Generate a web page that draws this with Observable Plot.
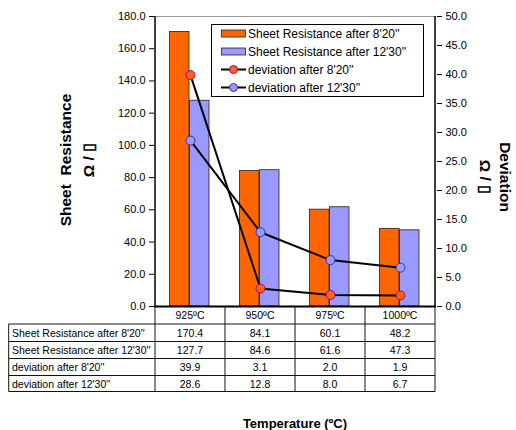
<!DOCTYPE html>
<html>
<head>
<meta charset="utf-8">
<script src="https://cdn.jsdelivr.net/npm/d3@7"></script>
<script src="https://cdn.jsdelivr.net/npm/@observablehq/plot@0.6"></script>
<style>
  html, body { margin: 0; padding: 0; background: #fff; }
  #chart { width: 516px; height: 430px; }
</style>
</head>
<body>
<div id="chart"></div>
<script>
const categories = ["925ºC", "950ºC", "975ºC", "1000ºC"];
const sheetResistance820 = [170.4, 84.1, 60.1, 48.2];
const sheetResistance1230 = [127.7, 84.6, 61.6, 47.3];
const deviation820 = [39.9, 3.1, 2.0, 1.9];
const deviation1230 = [28.6, 12.8, 8.0, 6.7];
const seriesNames = [
  "Sheet Resistance after 8'20''",
  "Sheet Resistance after 12'30''",
  "deviation after 8'20''",
  "deviation after 12'30''"
];
const leftTicks = [0, 20, 40, 60, 80, 100, 120, 140, 160, 180];
const rightTicks = [0, 5, 10, 15, 20, 25, 30, 35, 40, 45, 50];
const leftMax = 180, rightMax = 50;
const k = leftMax / rightMax;

const rows = categories.map((c, i) => ({
  cat: c,
  sr820: sheetResistance820[i],
  sr1230: sheetResistance1230[i],
  dev820: deviation820[i],
  dev1230: deviation1230[i]
}));
const tableSeries = [sheetResistance820, sheetResistance1230, deviation820, deviation1230];

const ORANGE = "#FF6600", BLUE = "#9999FF";
const FONT = "'Liberation Sans', Arial, sans-serif";

const plot = Plot.plot({
  width: 516,
  height: 430,
  marginLeft: 154,
  marginRight: 80,
  marginTop: 16,
  marginBottom: 124,
  style: { fontFamily: FONT, fontSize: "11px", background: "#fff", color: "#000", overflow: "visible" },
  x: { type: "band", domain: categories, padding: 0, axis: null },
  y: { domain: [0, leftMax], axis: null },
  marks: [
    Plot.ruleY([leftMax], { stroke: "#999", strokeWidth: 1 }),
    Plot.barY(rows, { x: "cat", y: "sr820", fill: ORANGE, stroke: "#222", strokeWidth: 0.8, insetLeft: 14.5, insetRight: 36 }),
    Plot.barY(rows, { x: "cat", y: "sr1230", fill: BLUE, stroke: "#222", strokeWidth: 0.8, insetLeft: 34.5, insetRight: 16 }),
    Plot.line(rows, { x: "cat", y: d => d.dev820 * k, stroke: "#000", strokeWidth: 2 }),
    Plot.line(rows, { x: "cat", y: d => d.dev1230 * k, stroke: "#000", strokeWidth: 2 }),
    Plot.dot(rows, { x: "cat", y: d => d.dev820 * k, r: 4.5, fill: ORANGE, stroke: "#990099", strokeWidth: 1 }),
    Plot.dot(rows, { x: "cat", y: d => d.dev1230 * k, r: 4.5, fill: BLUE, stroke: "#333399", strokeWidth: 1 }),
    Plot.ruleY([0], { stroke: "#000", strokeWidth: 2 }),
    Plot.axisY(leftTicks, { anchor: "left", tickSize: 5, tickPadding: 4, tickFormat: d => d.toFixed(1), label: null, fontSize: 11 }),
    Plot.axisY(rightTicks.map(d => d * k), { anchor: "right", tickSize: 5, tickPadding: 4, tickFormat: d => (d / k).toFixed(1), label: null, fontSize: 11 })
  ]
});

document.getElementById("chart").appendChild(plot);

const svg = d3.select(plot);
const xs = plot.scale("x");
const ys = plot.scale("y");
const bw = xs.bandwidth;
const x0 = xs.apply(categories[0]);
const xEnd = xs.apply(categories[categories.length - 1]) + bw;
const yTop = ys.apply(leftMax), yBot = ys.apply(0);

// axis lines
const g = svg.append("g").attr("font-family", FONT).attr("text-anchor", "start").attr("fill", "#000");
g.append("line").attr("x1", x0).attr("x2", x0).attr("y1", yTop).attr("y2", yBot).attr("stroke", "#000").attr("stroke-width", 1.5);
g.append("line").attr("x1", xEnd).attr("x2", xEnd).attr("y1", yTop).attr("y2", yBot).attr("stroke", "#000").attr("stroke-width", 1.5);

// data table
const tableLeft = 8.7;
const rowEdges = [yBot, 324, 341.5, 358.5, 375.5, 391.5];
const tg = g.append("g").attr("stroke", "#111").attr("stroke-width", 1);
for (let i = 1; i < rowEdges.length; i++) {
  tg.append("line").attr("x1", tableLeft).attr("x2", xEnd).attr("y1", rowEdges[i]).attr("y2", rowEdges[i]);
}
tg.append("line").attr("x1", tableLeft).attr("x2", tableLeft).attr("y1", rowEdges[1]).attr("y2", rowEdges[5]);
categories.forEach(c => {
  const xx = xs.apply(c);
  tg.append("line").attr("x1", xx).attr("x2", xx).attr("y1", yBot).attr("y2", rowEdges[5]);
});
tg.append("line").attr("x1", xEnd).attr("x2", xEnd).attr("y1", yBot).attr("y2", rowEdges[5]);

categories.forEach(c => {
  g.append("text").attr("x", xs.apply(c) + bw / 2).attr("y", (rowEdges[0] + rowEdges[1]) / 2 + 4)
    .attr("text-anchor", "middle").attr("font-size", 10.5).text(c);
});
seriesNames.forEach((name, r) => {
  const cy = (rowEdges[r + 1] + rowEdges[r + 2]) / 2 + 4;
  g.append("text").attr("x", 12).attr("y", cy).attr("text-anchor", "start").attr("font-size", 10.5).text(name);
  categories.forEach((c, i) => {
    g.append("text").attr("x", xs.apply(c) + bw / 2).attr("y", cy)
      .attr("text-anchor", "middle").attr("font-size", 10.5).text(tableSeries[r][i].toFixed(1));
  });
});

// legend
const lg = g.append("g");
lg.append("rect").attr("x", 211.5).attr("y", 24.5).attr("width", 212).attr("height", 72)
  .attr("fill", "#fff").attr("stroke", "#000").attr("stroke-width", 1);
const legendY = [33.5, 51.5, 69.5, 87.5];
const legendSym = [
  { type: "bar", fill: ORANGE, stroke: "#222" },
  { type: "bar", fill: BLUE, stroke: "#222" },
  { type: "line", fill: ORANGE, stroke: "#990099" },
  { type: "line", fill: BLUE, stroke: "#333399" }
];
seriesNames.forEach((name, i) => {
  const y = legendY[i], s = legendSym[i];
  if (s.type === "bar") {
    lg.append("rect").attr("x", 221.5).attr("y", y - 3.5).attr("width", 24).attr("height", 7)
      .attr("fill", s.fill).attr("stroke", s.stroke).attr("stroke-width", 0.8);
  } else {
    lg.append("line").attr("x1", 221).attr("x2", 246).attr("y1", y).attr("y2", y).attr("stroke", "#000").attr("stroke-width", 2);
    lg.append("circle").attr("cx", 233.5).attr("cy", y).attr("r", 4).attr("fill", s.fill).attr("stroke", s.stroke);
  }
  lg.append("text").attr("x", 248).attr("y", y + 4.3).attr("text-anchor", "start").attr("font-size", 12).text(name);
});

// axis titles
const leftTitle = g.append("text").attr("transform", "translate(71,160) rotate(-90)")
  .attr("text-anchor", "middle").attr("font-weight", "bold").attr("font-size", 15.5);
leftTitle.append("tspan").attr("x", 0).attr("dy", 0).text("Sheet  Resistance");
leftTitle.append("tspan").attr("x", 0).attr("dy", 23).text("Ω / ▯");

const rightTitle = g.append("text").attr("transform", "translate(500,177) rotate(90)")
  .attr("text-anchor", "middle").attr("font-weight", "bold").attr("font-size", 15.5);
rightTitle.append("tspan").attr("x", 0).attr("dy", 0).text("Deviation");
rightTitle.append("tspan").attr("x", 0).attr("dy", 20).text("Ω / ▯");

g.append("text").attr("x", 295).attr("y", 428).attr("text-anchor", "middle")
  .attr("font-weight", "bold").attr("font-size", 13).text("Temperature (ºC)");
</script>
</body>
</html>
